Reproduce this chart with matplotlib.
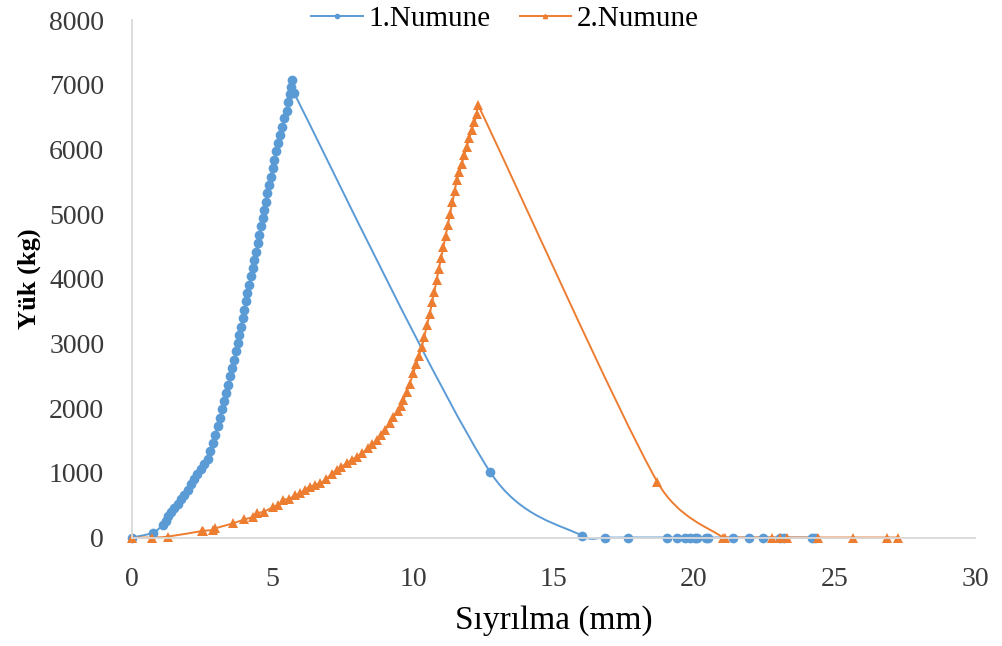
import numpy as np
import matplotlib
matplotlib.use("Agg")
import matplotlib.pyplot as plt
from matplotlib.path import Path
from matplotlib.patches import PathPatch
from matplotlib.lines import Line2D

# 1.Numune
x1 = [0.00, 0.74, 1.10, 1.20, 1.27, 1.38, 1.50, 1.62, 1.74, 1.86, 1.98, 2.10,
      2.21, 2.33, 2.45, 2.57, 2.69, 2.78, 2.87, 2.96, 3.05, 3.12, 3.20, 3.27,
      3.34, 3.42, 3.50, 3.57, 3.64, 3.70, 3.76, 3.82, 3.87, 3.94, 4.00, 4.06,
      4.11, 4.17, 4.23, 4.29, 4.35, 4.41, 4.47, 4.53, 4.59, 4.65, 4.70, 4.76,
      4.82, 4.88, 4.94, 5.00, 5.06, 5.13, 5.20, 5.27, 5.35, 5.42, 5.50, 5.56,
      5.62, 5.67, 5.71, 5.77,
      12.74, 16.03, 16.83, 17.66, 19.03, 19.38, 19.68, 19.86, 20.04, 20.10,
      20.43, 20.51, 21.40, 21.97, 22.47, 23.06, 23.20, 24.19, 24.30]
y1 = [0, 73, 200, 260, 330, 390, 450, 520, 590, 660, 740, 820,
      900, 980, 1060, 1130, 1210, 1330, 1460, 1590, 1720, 1850, 1980, 2110,
      2240, 2360, 2490, 2620, 2750, 2880, 3010, 3130, 3260, 3390, 3520, 3650,
      3780, 3910, 4040, 4160, 4290, 4420, 4550, 4680, 4810, 4940, 5070, 5190,
      5320, 5450, 5580, 5710, 5840, 5970, 6100, 6220, 6350, 6480, 6600, 6730,
      6850, 6960, 7070, 6870,
      1016, 23, 0, 0, 0, 0, 0, 0, 0, 0,
      0, 0, 0, 0, 0, 0, 0, 0, 0]

# 2.Numune
x2 = [0.00, 0.70, 1.29, 2.48, 2.54, 2.89, 2.95, 3.60, 4.00, 4.32, 4.44, 4.70,
      5.03, 5.20, 5.38, 5.60, 5.80, 5.98, 6.15, 6.33, 6.50, 6.69, 6.90, 7.10,
      7.28, 7.45, 7.65, 7.82, 8.00, 8.20, 8.40, 8.55, 8.71, 8.85, 9.00, 9.18,
      9.30, 9.45, 9.56, 9.66, 9.77, 9.88, 10.01, 10.11, 10.21, 10.31, 10.40,
      10.50, 10.60, 10.68, 10.76, 10.84, 10.92, 11.00, 11.08, 11.16, 11.24,
      11.32, 11.40, 11.48, 11.56, 11.65, 11.74, 11.82, 11.91, 12.00, 12.09,
      12.18, 12.27, 12.32,
      18.69, 21.02, 21.10, 22.76, 23.06, 23.30, 24.42, 25.65, 26.86, 27.27]
y2 = [0, 0, 15, 100, 105, 116, 140, 220, 280, 320, 374, 400,
      475, 500, 579, 600, 650, 682, 740, 785, 810, 838, 900, 980,
      1042, 1090, 1150, 1200, 1248, 1310, 1380, 1440, 1506, 1580, 1660, 1764,
      1860, 1960, 2040, 2124, 2250, 2380, 2536, 2680, 2810, 2947, 3100,
      3290, 3462, 3640, 3800, 3977, 4150, 4320, 4491, 4660, 4830,
      5007, 5180, 5350, 5521, 5650, 5780, 5910, 6036, 6170, 6300,
      6420, 6552, 6680,
      862, 0, 0, 0, 0, 0, 0, 0, 0, 0]

names = ["1.Numune", "2.Numune"]
BLUE = "#5B9BD5"
ORANGE = "#ED7D31"
SERIF = "Liberation Serif"
XMAX, YMAX = 30, 8000
AX_W, AX_H = 843, 517.5   # axes size in pixels


def smooth_path(xs, ys):
    """Smoothed line like Excel: Catmull-Rom bezier, handles limited
    to half the neighbouring segment (in pixel space)."""
    sc = np.array([AX_W / XMAX, AX_H / YMAX])
    p = np.column_stack([xs, ys]).astype(float) * sc
    n = len(p)
    tang = np.zeros_like(p)
    for i in range(n):
        a = p[i - 1] if i > 0 else p[i]
        b = p[i + 1] if i + 1 < n else p[i]
        tang[i] = (b - a) / 6.0

    def clamp(v, seg):
        lim = np.linalg.norm(seg) / 2.0
        ln = np.linalg.norm(v)
        return v * (lim / ln) if ln > lim else v

    verts = [p[0]]
    codes = [Path.MOVETO]
    for i in range(n - 1):
        seg = p[i + 1] - p[i]
        c1 = p[i] + clamp(tang[i], seg)
        c2 = p[i + 1] - clamp(tang[i + 1], seg)
        verts += [c1, c2, p[i + 1]]
        codes += [Path.CURVE4] * 3
    return Path(np.array(verts) / sc, codes)


fig = plt.figure(figsize=(10.03, 6.46), dpi=100)
ax = fig.add_axes([132 / 1003, 1 - 537.5 / 646, AX_W / 1003, AX_H / 646])

for xs, ys, col, mk, ms in [(x1, y1, BLUE, "o", 7), (x2, y2, ORANGE, "^", 7.4)]:
    ax.add_patch(PathPatch(smooth_path(xs, ys), facecolor="none",
                           edgecolor=col, lw=1.4, clip_on=False))
    ax.plot(xs, ys, linestyle="none", marker=mk, ms=ms, color=col,
            markeredgewidth=0, clip_on=False)

ax.set_xlim(0, XMAX)
ax.set_ylim(0, YMAX)
ax.set_xticks(np.arange(0, 31, 5))
ax.set_yticks(np.arange(0, 8001, 1000))
for s in ["top", "right"]:
    ax.spines[s].set_visible(False)
for s in ["left", "bottom"]:
    ax.spines[s].set_color("#D9D9D9")
    ax.spines[s].set_linewidth(1.3)
ax.tick_params(length=0, labelsize=20, colors="#3a3a3a")
ax.tick_params(axis="y", pad=20)
ax.tick_params(axis="x", pad=21)
for lab in ax.get_xticklabels() + ax.get_yticklabels():
    lab.set_fontfamily(SERIF)

ax.set_ylabel("Yük (kg)", fontfamily=SERIF, fontweight="bold", fontsize=19,
              labelpad=6)
ax.set_xlabel("Sıyrılma (mm)", fontfamily=SERIF, fontsize=24, labelpad=10)

handles = [Line2D([], [], color=BLUE, lw=1.4, marker="o", ms=3),
           Line2D([], [], color=ORANGE, lw=1.4, marker="^", ms=3)]
fig.legend(handles, names, loc="center", bbox_to_anchor=(505 / 1003, 1 - 19 / 646),
           ncol=2, frameon=False, prop={"family": SERIF, "size": 21},
           handlelength=1.75, handletextpad=0.2, columnspacing=1.0,
           borderpad=0, borderaxespad=0)

fig.savefig("out.png", dpi=100)
